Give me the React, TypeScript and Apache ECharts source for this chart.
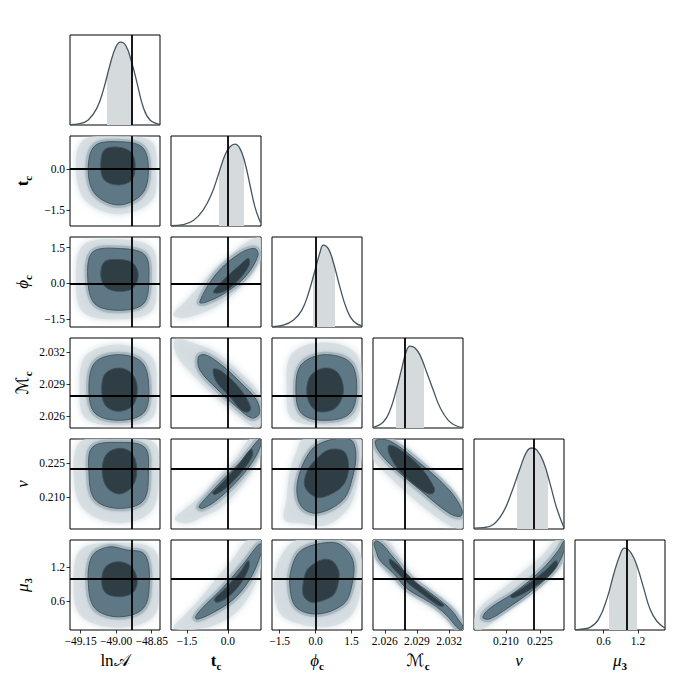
import React, { useEffect, useRef } from "react";
import * as echarts from "echarts";

// ---------- data ----------
const NAMES = [
  "{r|ln}{c|𝒜}",
  "{b|t}{sb|c}",
  "{i|ϕ}{sb|c}",
  "{c|ℳ}{sb|c}",
  "{i|ν}",
  "{i|μ}{sb|3}",
];
const RANGES: [number, number][] = [
  [-49.195, -48.815],
  [-2.08, 1.21],
  [-1.82, 1.94],
  [2.0249, 2.0333],
  [0.196, 0.2356],
  [0.1, 1.67],
];
const TICKS = [
  [-49.15, -49.0, -48.85],
  [-1.5, 0.0],
  [-1.5, 0.0, 1.5],
  [2.026, 2.029, 2.032],
  [0.21, 0.225],
  [0.6, 1.2],
];
const DECIMALS = [2, 1, 1, 3, 3, 1];
const TRUTHS = [-48.934, 0.0, 0.0, 2.0279, 0.2224, 1.0];
const INTERVALS: [number, number][] = [
  [-49.037, -48.93],
  [-0.325, 0.6],
  [-0.09, 0.81],
  [2.02705, 2.02969],
  [0.2151, 0.2284],
  [0.7, 1.18],
];

// marginal densities (x value, relative height)
const KDE_LNA = [[-49.195, 0.005], [-49.153, 0.015], [-49.118, 0.055], [-49.082, 0.185], [-49.054, 0.39], [-49.026, 0.67], [-49.001, 0.87], [-48.981, 0.92], [-48.959, 0.88], [-48.935, 0.7], [-48.913, 0.48], [-48.886, 0.2], [-48.857, 0.055], [-48.815, 0.007]];
const KDE_TC = [[-2.08, 0.003], [-1.63, 0.015], [-1.265, 0.06], [-0.9, 0.18], [-0.59, 0.36], [-0.35, 0.57], [-0.106, 0.79], [0.077, 0.88], [0.26, 0.91], [0.443, 0.86], [0.626, 0.7], [0.81, 0.45], [0.99, 0.21], [1.174, 0.05], [1.21, 0.04]];
const KDE_PHI = [[-1.82, 0.003], [-1.348, 0.02], [-0.93, 0.075], [-0.579, 0.185], [-0.303, 0.37], [-0.023, 0.63], [0.186, 0.83], [0.323, 0.91], [0.532, 0.87], [0.741, 0.72], [1.021, 0.44], [1.3, 0.2], [1.577, 0.067], [1.94, 0.01]];
const KDE_MC = [[2.0249, 0.006], [2.02586, 0.067], [2.02649, 0.196], [2.02711, 0.44], [2.02758, 0.66], [2.02798, 0.84], [2.02835, 0.91], [2.02882, 0.89], [2.02929, 0.81], [2.02991, 0.62], [2.03053, 0.42], [2.03115, 0.23], [2.03193, 0.085], [2.03271, 0.022], [2.0333, 0.007]];
const KDE_NU = [[0.196, 0.01], [0.2001, 0.015], [0.2045, 0.05], [0.2089, 0.19], [0.2126, 0.41], [0.2162, 0.67], [0.2192, 0.86], [0.2214, 0.9], [0.2236, 0.88], [0.2265, 0.75], [0.2294, 0.51], [0.2324, 0.23], [0.2356, 0.015]];
const KDE_MU3 = [[0.1, 0.004], [0.177, 0.007], [0.363, 0.03], [0.513, 0.12], [0.663, 0.36], [0.775, 0.62], [0.888, 0.84], [0.963, 0.91], [1.075, 0.86], [1.187, 0.7], [1.3, 0.46], [1.41, 0.23], [1.525, 0.1], [1.67, 0.02]];
const KDES = [KDE_LNA, KDE_TC, KDE_PHI, KDE_MC, KDE_NU, KDE_MU3];

// 2-D contours: [scatter halo, outer contour, inner contour], vertices in data units
const P10_HALO = [[-48.83, 0.0], [-48.85, 1.0], [-48.99, 1.2], [-49.14, 1.05], [-49.17, 0.0], [-49.13, -1.15], [-48.99, -1.65], [-48.85, -1.15]];
const P10_MID = [[-48.864, 0.0], [-48.89, 0.8], [-48.99, 1.0], [-49.09, 0.85], [-49.118, 0.0], [-49.09, -0.9], [-48.99, -1.31], [-48.89, -0.9]];
const P10_IN = [[-48.92, 0.1], [-48.935, 0.6], [-48.99, 0.8], [-49.05, 0.7], [-49.065, 0.1], [-49.05, -0.4], [-48.99, -0.58], [-48.935, -0.4]];

const P20_HALO = [[-48.83, 0.2], [-48.85, 1.5], [-48.99, 1.85], [-49.14, 1.6], [-49.17, 0.2], [-49.14, -1.2], [-48.99, -1.5], [-48.85, -1.15]];
const P20_MID = [[-48.862, 0.2], [-48.88, 1.2], [-48.99, 1.46], [-49.1, 1.3], [-49.12, 0.2], [-49.09, -0.85], [-48.99, -1.12], [-48.885, -0.85]];
const P20_IN = [[-48.907, 0.35], [-48.93, 0.85], [-48.99, 1.0], [-49.05, 0.9], [-49.065, 0.35], [-49.045, -0.15], [-48.99, -0.33], [-48.93, -0.2]];

const P21_HALO = [[-2.0, -1.3], [-1.6, -0.8], [-1.0, -0.05], [-0.5, 0.6], [0.2, 1.3], [0.8, 1.8], [1.2, 1.9], [1.2, 1.0], [0.9, 0.4], [0.3, -0.35], [-0.4, -0.95], [-1.1, -1.3], [-1.7, -1.45]];
const P21_MID = [[-1.03, -0.78], [-0.42, 0.41], [0.43, 1.25], [0.98, 1.46], [1.1, 1.18], [0.68, 0.34], [-0.05, -0.36], [-0.79, -0.78]];
const P21_IN = [[-0.53, -0.35], [-0.17, 0.14], [0.44, 0.77], [0.75, 1.05], [0.78, 0.77], [0.44, 0.21], [-0.04, -0.27], [-0.41, -0.41]];

const P30_HALO = [[-48.829, 2.0285], [-48.85, 2.0315], [-48.99, 2.0327], [-49.13, 2.0316], [-49.155, 2.0285], [-49.13, 2.0258], [-48.99, 2.0251], [-48.85, 2.0258]];
const P30_MID = [[-48.862, 2.0285], [-48.89, 2.031], [-48.99, 2.03174], [-49.09, 2.031], [-49.115, 2.0285], [-49.09, 2.0263], [-48.99, 2.02562], [-48.885, 2.0263]];
const P30_IN = [[-48.911, 2.0285], [-48.93, 2.0299], [-48.985, 2.0305], [-49.045, 2.03], [-49.061, 2.0285], [-49.045, 2.027], [-48.99, 2.02646], [-48.93, 2.027]];

const P31_HALO = [[-1.934, 2.03318], [-1.02, 2.03262], [-0.41, 2.03193], [0.44, 2.03013], [1.17, 2.02795], [1.2, 2.02515], [0.93, 2.025], [0.2, 2.0264], [-0.53, 2.02795], [-1.265, 2.02982], [-1.87, 2.03169]];
const P31_MID = [[-1.08, 2.03153], [-0.84, 2.03174], [-0.29, 2.0309], [0.44, 2.0292], [1.05, 2.02749], [1.15, 2.02624], [0.87, 2.02584], [0.32, 2.02686], [-0.41, 2.02857], [-1.02, 2.03029]];
const P31_IN = [[-0.53, 2.03038], [-0.23, 2.03019], [0.44, 2.02857], [0.83, 2.02686], [0.75, 2.0264], [0.5, 2.02656], [0.08, 2.0278], [-0.43, 2.02926]];

const P32_HALO = [[1.93, 2.0285], [1.7, 2.0318], [0.35, 2.0329], [-1.0, 2.0318], [-1.21, 2.0285], [-1.0, 2.0258], [0.3, 2.0251], [1.65, 2.0257]];
const P32_MID = [[1.72, 2.0285], [1.45, 2.031], [0.35, 2.03174], [-0.6, 2.0308], [-0.82, 2.0285], [-0.6, 2.0263], [0.3, 2.02562], [1.4, 2.0262]];
const P32_IN = [[1.16, 2.0283], [0.95, 2.03], [0.4, 2.0305], [-0.2, 2.0298], [-0.37, 2.0283], [-0.2, 2.027], [0.2, 2.0264], [0.85, 2.0268]];

const P40_HALO = [[-48.82, 0.2215], [-48.84, 0.234], [-48.99, 0.2356], [-49.15, 0.2345], [-49.18, 0.221], [-49.14, 0.205], [-48.99, 0.1986], [-48.85, 0.204]];
const P40_MID = [[-48.864, 0.222], [-48.88, 0.232], [-48.99, 0.2341], [-49.1, 0.232], [-49.115, 0.221], [-49.09, 0.209], [-48.99, 0.2051], [-48.885, 0.2085]];
const P40_IN = [[-48.913, 0.2225], [-48.935, 0.2295], [-48.985, 0.2315], [-49.04, 0.229], [-49.059, 0.222], [-49.04, 0.2145], [-48.985, 0.2114], [-48.93, 0.215]];

const P41_HALO = [[-1.95, 0.2005], [-1.5, 0.2055], [-1.0, 0.2105], [-0.4, 0.2185], [0.3, 0.2275], [0.8, 0.2356], [1.21, 0.2356], [1.21, 0.229], [0.9, 0.2215], [0.4, 0.2135], [-0.3, 0.205], [-0.9, 0.2015], [-1.5, 0.1985]];
const P41_MID = [[-1.06, 0.2057], [-0.86, 0.2089], [-0.19, 0.2177], [0.48, 0.2258], [1.01, 0.2338], [1.17, 0.2356], [1.21, 0.2331], [0.87, 0.225], [0.27, 0.2162], [-0.46, 0.2082], [-0.93, 0.2051]];
const P41_IN = [[-0.55, 0.2121], [-0.33, 0.2148], [0.34, 0.2236], [0.85, 0.2312], [0.9, 0.2283], [0.48, 0.2209], [-0.12, 0.2136], [-0.49, 0.2111]];

const P42_HALO = [[1.2, 0.2356], [1.9, 0.2356], [1.9, 0.225], [1.6, 0.21], [1.2, 0.203], [0.4, 0.1975], [-0.6, 0.1985], [-1.3, 0.2], [-1.2, 0.21], [-1.1, 0.22], [-0.8, 0.23], [-0.5, 0.2356]];
const P42_MID = [[0.54, 0.235], [1.46, 0.2353], [1.68, 0.2294], [1.55, 0.219], [1.15, 0.2089], [0.08, 0.203], [-0.6, 0.206], [-0.76, 0.2162], [-0.22, 0.2302]];
const P42_IN = [[1.2, 0.23], [1.38, 0.2236], [1.25, 0.217], [0.92, 0.213], [0.3, 0.21], [-0.07, 0.2104], [-0.45, 0.2148], [-0.35, 0.2215], [0.1, 0.2275], [0.6, 0.231]];

const P43_HALO = [[2.0249, 0.2356], [2.0268, 0.2356], [2.03, 0.224], [2.0325, 0.212], [2.0333, 0.204], [2.0333, 0.1965], [2.032, 0.1975], [2.029, 0.208], [2.0262, 0.22], [2.0249, 0.227]];
const P43_MID = [[2.02517, 0.235], [2.02653, 0.2346], [2.02926, 0.225], [2.03199, 0.2133], [2.0332, 0.2045], [2.03307, 0.2016], [2.03199, 0.203], [2.02926, 0.2133], [2.0267, 0.2236], [2.02534, 0.2309]];
const P43_IN = [[2.02636, 0.2327], [2.02721, 0.2316], [2.02926, 0.2236], [2.03062, 0.214], [2.03045, 0.2115], [2.0296, 0.2126], [2.02756, 0.2206], [2.02647, 0.2283]];

const P50_HALO = [[-48.82, 0.95], [-48.84, 1.5], [-49.0, 1.62], [-49.15, 1.5], [-49.18, 0.95], [-49.15, 0.35], [-48.99, 0.14], [-48.84, 0.35]];
const P50_MID = [[-48.86, 0.95], [-48.88, 1.42], [-48.96, 1.5], [-49.03, 1.55], [-49.1, 1.4], [-49.118, 0.95], [-49.09, 0.48], [-48.99, 0.33], [-48.885, 0.48]];
const P50_IN = [[-48.911, 0.95], [-48.935, 1.2], [-48.99, 1.29], [-49.045, 1.2], [-49.061, 0.95], [-49.045, 0.75], [-48.99, 0.68], [-48.93, 0.75]];

const P51_HALO = [[-2.0, 0.14], [-1.6, 0.35], [-1.1, 0.6], [-0.5, 0.95], [0.2, 1.35], [0.7, 1.66], [1.21, 1.67], [1.21, 1.2], [0.9, 0.8], [0.4, 0.45], [-0.3, 0.22], [-1.0, 0.12], [-1.6, 0.1]];
const P51_MID = [[-1.19, 0.32], [-0.96, 0.47], [-0.17, 0.845], [0.61, 1.28], [1.08, 1.57], [1.21, 1.6], [1.21, 1.43], [0.77, 0.96], [0.14, 0.61], [-0.64, 0.38], [-1.11, 0.29]];
const P51_IN = [[-0.49, 0.64], [-0.17, 0.79], [0.45, 1.11], [0.74, 1.31], [0.77, 1.19], [0.45, 0.9], [-0.01, 0.67], [-0.41, 0.58]];

const P52_HALO = [[0.2, 1.67], [1.2, 1.67], [1.85, 1.45], [1.93, 1.0], [1.7, 0.5], [1.2, 0.25], [0.3, 0.15], [-0.8, 0.22], [-1.5, 0.4], [-1.75, 0.9], [-1.5, 1.35], [-0.8, 1.67]];
const P52_MID = [[0.09, 1.6], [0.98, 1.6], [1.56, 1.31], [1.5, 0.85], [1.16, 0.55], [0.09, 0.38], [-0.81, 0.5], [-1.08, 0.9], [-0.95, 1.25], [-0.63, 1.48]];
const P52_IN = [[0.3, 1.33], [0.71, 1.3], [0.95, 1.15], [0.98, 1.02], [0.85, 0.78], [0.62, 0.67], [-0.09, 0.58], [-0.45, 0.66], [-0.54, 0.79], [-0.45, 1.05], [-0.27, 1.19]];

const P53_HALO = [[2.0249, 1.67], [2.0263, 1.653], [2.02708, 1.467], [2.02785, 1.263], [2.02847, 1.089], [2.03003, 0.839], [2.03143, 0.653], [2.03252, 0.478], [2.0333, 0.275], [2.0333, 0.1], [2.03267, 0.1], [2.03174, 0.275], [2.0305, 0.467], [2.0291, 0.624], [2.02785, 0.781], [2.02692, 0.943], [2.02599, 1.118], [2.02521, 1.292], [2.0249, 1.467]];
const P53_MID = [[2.02521, 1.653], [2.02583, 1.583], [2.02661, 1.408], [2.02739, 1.234], [2.02801, 1.071], [2.02879, 0.943], [2.02988, 0.798], [2.03112, 0.624], [2.03221, 0.449], [2.03289, 0.275], [2.0333, 0.158], [2.03314, 0.1], [2.03267, 0.158], [2.0319, 0.333], [2.03081, 0.507], [2.02956, 0.653], [2.02847, 0.769], [2.0277, 0.885], [2.02708, 1.031], [2.0263, 1.176], [2.02552, 1.321], [2.02521, 1.467], [2.02499, 1.612]];
const P53_IN = [[2.02646, 1.339], [2.02739, 1.205], [2.02847, 1.002], [2.02972, 0.798], [2.03112, 0.595], [2.03152, 0.537], [2.03134, 0.507], [2.03081, 0.548], [2.02941, 0.74], [2.02817, 0.914], [2.02723, 1.089], [2.02655, 1.234]];

const P54_HALO = [[0.1962, 0.12], [0.1965, 0.35], [0.2, 0.55], [0.208, 0.8], [0.217, 1.1], [0.226, 1.4], [0.232, 1.67], [0.2356, 1.67], [0.2356, 1.3], [0.229, 1.0], [0.22, 0.72], [0.211, 0.45], [0.204, 0.22], [0.199, 0.1]];
const P54_MID = [[0.1999, 0.32], [0.2027, 0.47], [0.214, 0.76], [0.2254, 1.135], [0.233, 1.48], [0.2356, 1.65], [0.2356, 1.48], [0.231, 1.135], [0.2216, 0.79], [0.2103, 0.47], [0.2027, 0.29]];
const P54_IN = [[0.2121, 0.7], [0.2178, 0.845], [0.2273, 1.135], [0.232, 1.31], [0.2326, 1.22], [0.2273, 0.99], [0.2188, 0.76], [0.2131, 0.66]];

const CONTOURS: Record<string, number[][][]> = {
  "1-0": [P10_HALO, P10_MID, P10_IN],
  "2-0": [P20_HALO, P20_MID, P20_IN],
  "2-1": [P21_HALO, P21_MID, P21_IN],
  "3-0": [P30_HALO, P30_MID, P30_IN],
  "3-1": [P31_HALO, P31_MID, P31_IN],
  "3-2": [P32_HALO, P32_MID, P32_IN],
  "4-0": [P40_HALO, P40_MID, P40_IN],
  "4-1": [P41_HALO, P41_MID, P41_IN],
  "4-2": [P42_HALO, P42_MID, P42_IN],
  "4-3": [P43_HALO, P43_MID, P43_IN],
  "5-0": [P50_HALO, P50_MID, P50_IN],
  "5-1": [P51_HALO, P51_MID, P51_IN],
  "5-2": [P52_HALO, P52_MID, P52_IN],
  "5-3": [P53_HALO, P53_MID, P53_IN],
  "5-4": [P54_HALO, P54_MID, P54_IN],
};

// ---------- styling ----------
const N = 6;
const LEFT0 = 70;
const TOP0 = 35;
const STEP = 101;
const SIZE = 90;
const SERIF = "'Liberation Serif', 'DejaVu Serif', 'DejaVu Sans', serif";
const HALO_STYLE = { fill: "#d4dce0", opacity: 0.75, shadowBlur: 7, shadowColor: "rgba(190,204,211,0.9)" };
const BAND_STYLE = { fill: "none", stroke: "#a3b3bb", lineWidth: 6, opacity: 0.8, shadowBlur: 3, shadowColor: "rgba(160,178,188,0.8)" };
const MID_STYLE = { fill: "#5f7885", stroke: "#3e515b", lineWidth: 0.9 };
const IN_STYLE = { fill: "#2f3d45", stroke: "#3e515b", lineWidth: 0.9 };
const RICH = {
  r: { fontSize: 17, fontFamily: SERIF, lineHeight: 22, color: "#000" },
  c: { fontSize: 17, fontFamily: SERIF, lineHeight: 22, color: "#000" },
  b: { fontSize: 17, fontFamily: SERIF, fontWeight: "bold", lineHeight: 22, color: "#000" },
  i: { fontSize: 17, fontFamily: SERIF, fontStyle: "italic", lineHeight: 22, color: "#000" },
  sb: { fontSize: 11, fontFamily: SERIF, fontWeight: "bold", lineHeight: 12, verticalAlign: "bottom", color: "#000" },
};

const fmt = (d: number) => (v: number) => v.toFixed(d).replace("-", "\u2212");

function buildOption() {
  const grids: any[] = [];
  const xAxes: any[] = [];
  const yAxes: any[] = [];
  const series: any[] = [];
  const visualMaps: any[] = [];

  for (let r = 0; r < N; r++) {
    for (let c = 0; c <= r; c++) {
      const gi = grids.length;
      grids.push({
        left: LEFT0 + STEP * c,
        top: TOP0 + STEP * r,
        width: SIZE,
        height: SIZE,
        show: true,
        borderColor: "#000",
        borderWidth: 1,
        backgroundColor: "rgba(0,0,0,0)",
      });
      const bottom = r === N - 1;
      const leftCol = c === 0 && r > 0;
      xAxes.push({
        type: "value",
        gridIndex: gi,
        min: RANGES[c][0],
        max: RANGES[c][1],
        axisLine: { show: false },
        splitLine: { show: false },
        axisTick: {
          show: bottom,
          customValues: TICKS[c],
          length: 3.5,
          lineStyle: { color: "#000", width: 0.8 },
        },
        axisLabel: {
          show: bottom,
          customValues: TICKS[c],
          formatter: fmt(DECIMALS[c]),
          margin: 5,
          fontSize: 11.5,
          fontFamily: SERIF,
          color: "#000",
        },
        name: bottom ? NAMES[c] : "",
        nameLocation: "middle",
        nameGap: 19,
        nameTextStyle: { rich: RICH, verticalAlign: "top" },
      });
      if (r === c) {
        yAxes.push({
          type: "value",
          gridIndex: gi,
          min: 0,
          max: 1,
          axisLine: { show: false },
          splitLine: { show: false },
          axisTick: { show: false },
          axisLabel: { show: false },
        });
      } else {
        yAxes.push({
          type: "value",
          gridIndex: gi,
          min: RANGES[r][0],
          max: RANGES[r][1],
          axisLine: { show: false },
          splitLine: { show: false },
          axisTick: {
            show: leftCol,
            customValues: TICKS[r],
            length: 3.5,
            lineStyle: { color: "#000", width: 0.8 },
          },
          axisLabel: {
            show: leftCol,
            customValues: TICKS[r],
            formatter: fmt(DECIMALS[r]),
            margin: 5,
            fontSize: 11.5,
            fontFamily: SERIF,
            color: "#000",
          },
          name: leftCol ? NAMES[r] : "",
          nameLocation: "middle",
          nameGap: 37,
          nameRotate: 90,
          nameTextStyle: { rich: RICH },
        });
      }

      const truthLine = {
        type: "line",
        xAxisIndex: gi,
        yAxisIndex: gi,
        data: [],
        silent: true,
        z: 5,
        markLine: {
          silent: true,
          precision: 8,
          symbol: ["none", "none"],
          label: { show: false },
          lineStyle: { color: "#000", width: 1.8, type: "solid" },
          data: r === c ? [{ xAxis: TRUTHS[c] }] : [{ xAxis: TRUTHS[c] }, { yAxis: TRUTHS[r] }],
        },
      };

      if (r === c) {
        const shadeIdx = series.length;
        series.push({
          type: "line",
          xAxisIndex: gi,
          yAxisIndex: gi,
          data: KDES[c],
          smooth: 0.45,
          showSymbol: false,
          symbol: "none",
          silent: true,
          lineStyle: { opacity: 0, width: 0 },
          areaStyle: { opacity: 1 },
          z: 1,
        });
        visualMaps.push({
          type: "piecewise",
          show: false,
          seriesIndex: shadeIdx,
          dimension: 0,
          pieces: [{ gte: INTERVALS[c][0], lte: INTERVALS[c][1], color: "#d5dadd" }],
          outOfRange: { color: "rgba(255,255,255,0)" },
        });
        series.push({
          type: "line",
          xAxisIndex: gi,
          yAxisIndex: gi,
          data: KDES[c],
          smooth: 0.45,
          showSymbol: false,
          symbol: "none",
          silent: true,
          color: "#44565f",
          lineStyle: { color: "#44565f", width: 1.3 },
          z: 3,
        });
        series.push(truthLine);
      } else {
        const polys = CONTOURS[`${r}-${c}`];
        series.push({
          type: "custom",
          xAxisIndex: gi,
          yAxisIndex: gi,
          silent: true,
          clip: true,
          encode: { x: 0, y: 1 },
          data: polys.map((p, k) => [p[0][0], p[0][1], k]),
          renderItem: (params: any, api: any) => {
            const k = api.value(2);
            const pts = polys[k].map((p) => api.coord(p));
            const shape = { points: pts, smooth: 0.35 };
            if (k === 0) return { type: "polygon", shape, style: HALO_STYLE };
            if (k === 1)
              return {
                type: "group",
                children: [
                  { type: "polygon", shape, style: BAND_STYLE },
                  { type: "polygon", shape, style: MID_STYLE },
                ],
              };
            return { type: "polygon", shape, style: IN_STYLE };
          },
          z: 2,
        });
        series.push(truthLine);
      }
    }
  }

  return {
    animation: false,
    backgroundColor: "#fff",
    grid: grids,
    xAxis: xAxes,
    yAxis: yAxes,
    visualMap: visualMaps,
    series,
  };
}

export default function App() {
  const ref = useRef<HTMLDivElement>(null);
  useEffect(() => {
    document.body.style.margin = "0";
    if (!ref.current) return;
    const chart = echarts.init(ref.current, undefined, { renderer: "svg" });
    chart.setOption(buildOption() as any);
    return () => chart.dispose();
  }, []);
  return <div ref={ref} style={{ width: 700, height: 700 }} />;
}
